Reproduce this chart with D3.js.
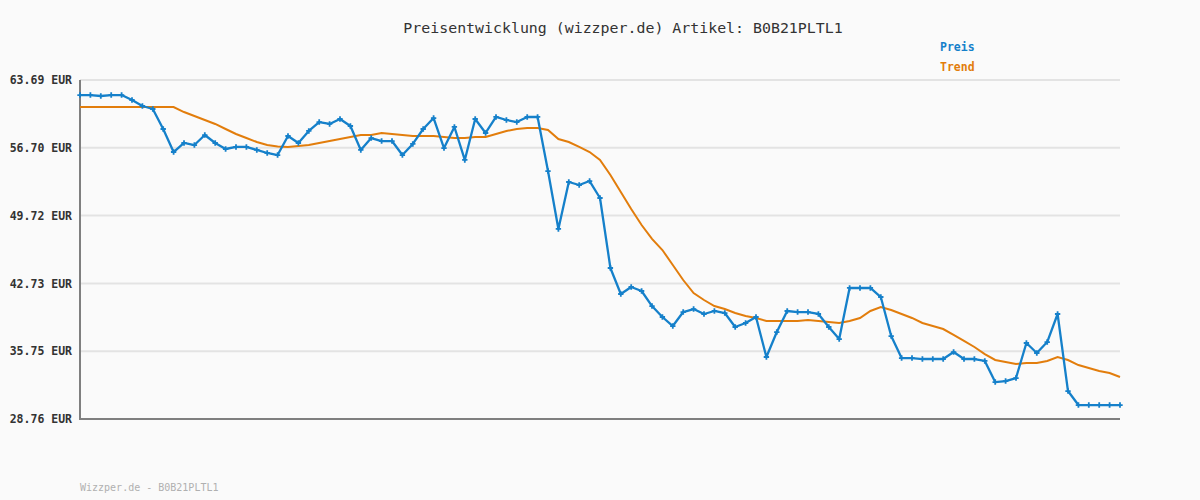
<!DOCTYPE html>
<html>
<head>
<meta charset="utf-8">
<title>Preisentwicklung</title>
<script src="https://d3js.org/d3.v7.min.js"></script>
<style>
    body{
        margin:0;
        padding:0;
        background-color:#fafafa;
    }
    svg text{
        font-family:'DejaVu Sans Mono', 'Liberation Mono', monospace;
    }
</style>
</head>
<body>
<svg id="chart" width="1200" height="500"></svg>
<script>
    // Preis, one value per day
    var preis = [
        62.14, 62.14, 62.04, 62.14, 62.14, 61.63, 61.01, 60.70, 58.64, 56.27,
        57.20, 56.99, 58.02, 57.20, 56.58, 56.79, 56.79, 56.48, 56.17, 55.96,
        57.92, 57.20, 58.44, 59.36, 59.16, 59.67, 58.95, 56.48, 57.71, 57.40,
        57.40, 55.96, 57.10, 58.64, 59.77, 56.68, 58.85, 55.45, 59.67, 58.23,
        59.88, 59.57, 59.36, 59.88, 59.88, 54.31, 48.34, 53.18, 52.87, 53.28,
        51.53, 44.32, 41.64, 42.36, 41.95, 40.40, 39.27, 38.34, 39.78, 40.09,
        39.58, 39.89, 39.68, 38.24, 38.65, 39.27, 35.15, 37.72, 39.89, 39.78,
        39.78, 39.58, 38.24, 37.00, 42.26, 42.26, 42.26, 41.33, 37.31, 35.04,
        35.04, 34.94, 34.94, 34.94, 35.66, 34.94, 34.94, 34.74, 32.57, 32.67,
        32.98, 36.59, 35.56, 36.69, 39.58, 31.64, 30.20, 30.20, 30.20, 30.20,
        30.20
    ];

    var trend = [
        60.91, 60.91, 60.91, 60.91, 60.91, 60.91, 60.91, 60.91, 60.91, 60.91,
        60.39, 59.98, 59.57, 59.16, 58.64, 58.13, 57.71, 57.30, 56.99, 56.84,
        56.79, 56.89, 56.99, 57.20, 57.40, 57.61, 57.82, 58.02, 58.02, 58.23,
        58.13, 58.02, 57.92, 57.92, 57.92, 57.82, 57.71, 57.71, 57.82, 57.82,
        58.13, 58.44, 58.64, 58.74, 58.74, 58.54, 57.61, 57.30, 56.79, 56.27,
        55.45, 53.90, 52.15, 50.40, 48.75, 47.31, 46.17, 44.63, 43.08, 41.74,
        41.02, 40.40, 40.09, 39.68, 39.37, 39.17, 38.86, 38.86, 38.86, 38.86,
        38.96, 38.86, 38.76, 38.65, 38.86, 39.17, 39.89, 40.30, 39.99, 39.58,
        39.17, 38.65, 38.34, 38.03, 37.42, 36.80, 36.18, 35.45, 34.84, 34.63,
        34.43, 34.53, 34.53, 34.74, 35.15, 34.84, 34.32, 34.01, 33.70, 33.50,
        33.09
    ];

    var yTicks = [28.76, 35.75, 42.73, 49.72, 56.70, 63.69];
    var titleText = "Preisentwicklung (wizzper.de) Artikel: B0B21PLTL1";
    var footerText = "Wizzper.de - B0B21PLTL1";
    var legendNames = ["Preis", "Trend"];

    var blue = "#1580ca";
    var orange = "#e27d0c";

    var svg = d3.select("#chart");

    var plotLeft = 80, plotRight = 1120, plotTop = 80, plotBottom = 419;

    var x = d3.scaleLinear()
        .domain([0, preis.length - 1])
        .range([plotLeft, plotRight]);

    var y = d3.scaleLinear()
        .domain([yTicks[0], yTicks[yTicks.length - 1]])
        .range([plotBottom, plotTop]);

    // grid lines
    svg.append("g")
        .selectAll("line")
        .data(yTicks.slice(1))
        .enter().append("line")
        .attr("x1", plotLeft)
        .attr("x2", plotRight)
        .attr("y1", function(d) { return y(d); })
        .attr("y2", function(d) { return y(d); })
        .attr("stroke", "#e3e3e3")
        .attr("stroke-width", 2);

    // y labels
    var yAxis = d3.axisLeft(y)
        .tickValues(yTicks)
        .tickSize(0)
        .tickPadding(8)
        .tickFormat(function(d) { return d.toFixed(2) + " EUR"; });

    var yg = svg.append("g")
        .attr("transform", "translate(" + plotLeft + ",0)")
        .call(yAxis);
    yg.select(".domain").remove();
    yg.selectAll("text")
        .attr("fill", "#333")
        .attr("font-size", "11.5px")
        .attr("font-weight", "bold")
        .attr("font-family", "'DejaVu Sans Mono', monospace");

    // axis frame
    svg.append("line")
        .attr("x1", plotLeft).attr("x2", plotLeft)
        .attr("y1", plotTop).attr("y2", plotBottom + 1)
        .attr("stroke", "#7f7f7f")
        .attr("stroke-width", 2);
    svg.append("line")
        .attr("x1", plotLeft - 1).attr("x2", plotRight)
        .attr("y1", plotBottom).attr("y2", plotBottom)
        .attr("stroke", "#7f7f7f")
        .attr("stroke-width", 2);

    var line = d3.line()
        .x(function(d, i) { return x(i); })
        .y(function(d) { return y(d); });

    svg.append("path")
        .datum(trend)
        .attr("d", line)
        .attr("fill", "none")
        .attr("stroke", orange)
        .attr("stroke-width", 2);

    svg.append("path")
        .datum(preis)
        .attr("d", line)
        .attr("fill", "none")
        .attr("stroke", blue)
        .attr("stroke-width", 2.3)
        .attr("stroke-linejoin", "round");

    var marker = d3.symbol().type(d3.symbolCross).size(16);
    svg.append("g")
        .selectAll("path")
        .data(preis)
        .enter().append("path")
        .attr("d", marker)
        .attr("transform", function(d, i) { return "translate(" + x(i) + "," + y(d) + ")"; })
        .attr("fill", blue);

    // title
    svg.append("text")
        .attr("x", 623)
        .attr("y", 33)
        .attr("text-anchor", "middle")
        .attr("font-size", "14.9px")
        .attr("fill", "#333")
        .text(titleText);

    // legend
    svg.selectAll(".legend")
        .data(legendNames)
        .enter().append("text")
        .attr("class", "legend")
        .attr("x", 940)
        .attr("y", function(d, i) { return 51 + i * 20; })
        .attr("font-size", "11.5px")
        .attr("font-weight", "bold")
        .attr("fill", function(d, i) { return i == 0 ? blue : orange; })
        .text(function(d) { return d; });

    // footer
    svg.append("text")
        .attr("x", 80)
        .attr("y", 491)
        .attr("font-size", "10px")
        .attr("fill", "#b0b0b0")
        .text(footerText);
</script>
</body>
</html>
